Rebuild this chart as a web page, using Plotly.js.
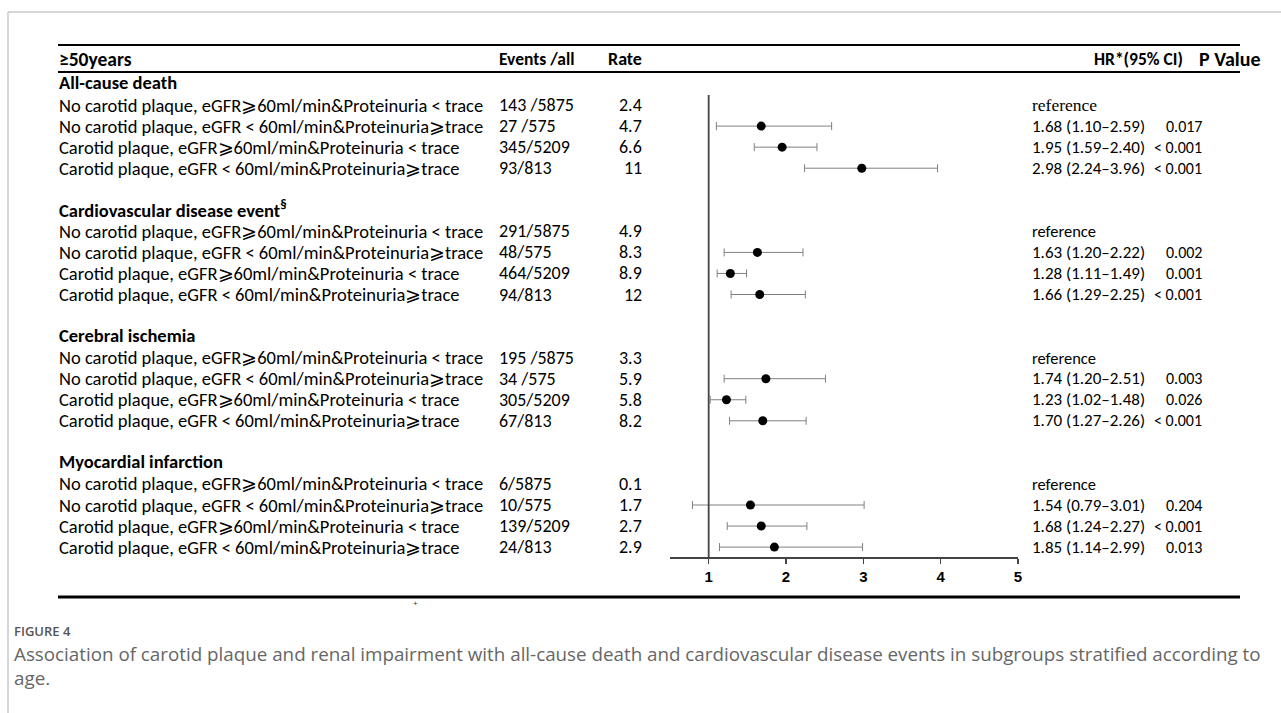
<!DOCTYPE html>
<html>
<head>
<meta charset="utf-8">
<script src="https://cdn.plot.ly/plotly-3.0.1.min.js"></script>
<style>html,body{margin:0;padding:0;background:#fff;}#chart{width:1281px;height:713px;}</style>
</head>
<body>
<div id="chart"></div>
<script>
// ---------- data ----------
const headerLabel = "≥50years";
const groups = ["All-cause death", "Cardiovascular disease event<sup>§</sup>", "Cerebral ischemia", "Myocardial infarction"];
const rowLabels = [
  "No carotid plaque, eGFR⩾60ml/min&amp;Proteinuria &lt; trace",
  "No carotid plaque, eGFR &lt; 60ml/min&amp;Proteinuria⩾trace",
  "Carotid plaque, eGFR⩾60ml/min&amp;Proteinuria &lt; trace",
  "Carotid plaque, eGFR &lt; 60ml/min&amp;Proteinuria⩾trace"
];
const events = [
  ["143 /5875", "27 /575", "345/5209", "93/813"],
  ["291/5875", "48/575", "464/5209", "94/813"],
  ["195 /5875", "34 /575", "305/5209", "67/813"],
  ["6/5875", "10/575", "139/5209", "24/813"]
];
const rates = [
  ["2.4", "4.7", "6.6", "11"],
  ["4.9", "8.3", "8.9", "12"],
  ["3.3", "5.9", "5.8", "8.2"],
  ["0.1", "1.7", "2.7", "2.9"]
];
// HR, lower, upper for rows 2-4 of each group (row 1 = reference)
const hr    = [[1.68, 1.95, 2.98], [1.63, 1.28, 1.66], [1.74, 1.23, 1.70], [1.54, 1.68, 1.85]];
const lower = [[1.10, 1.59, 2.24], [1.20, 1.11, 1.29], [1.20, 1.02, 1.27], [0.79, 1.24, 1.14]];
const upper = [[2.59, 2.40, 3.96], [2.22, 1.49, 2.25], [2.51, 1.48, 2.26], [3.01, 2.27, 2.99]];
const pvals = [["0.017", "&lt; 0.001", "&lt; 0.001"], ["0.002", "0.001", "&lt; 0.001"], ["0.003", "0.026", "&lt; 0.001"], ["0.204", "&lt; 0.001", "0.013"]];
const xTicks = [1, 2, 3, 4, 5];
const captionHead = "FIGURE 4";
const captionText = "Association of carotid plaque and renal impairment with all-cause death and cardiovascular disease events in subgroups stratified according to<br>age.";

// ---------- geometry helpers (pixels -> paper) ----------
const W = 1281, H = 713;
const px = v => v / W;
const py = v => 1 - v / H;
const y0 = 84, step = 21.05;
const slotY = k => y0 + k * step;
const plotLeft = 670, plotRight = 1018, plotTop = 95, plotBottom = 557;
const kTop = (plotTop - y0) / step, kBot = (plotBottom - y0) / step;

const txtFont = "Carlito, Calibri, Lato, 'Liberation Sans', sans-serif";
const F = (size, extra) => Object.assign({family: txtFont, size: size, color: "#000"}, extra || {});
const ann = [];
function addText(text, x, y, font, opts) {
  ann.push(Object.assign({
    text: text, xref: "paper", yref: "paper", x: px(x), y: py(y),
    xanchor: "left", yanchor: "middle", showarrow: false, font: font
  }, opts || {}));
}

// header
addText("<b>" + headerLabel + "</b>", 57, 59, F(19.5));
addText("<b>Events /all</b>", 497, 59, F(17.5));
addText("<b>Rate</b>", 644, 59, F(18), {xanchor: "right"});
addText("<b>HR*(95% CI)</b>", 1092, 59, F(17.5));
addText("<b>P Value</b>", 1197, 59, F(20));

// traces
const xs = [], ys = [], ep = [], em = [];
groups.forEach((g, gi) => {
  const base = gi * 6;
  addText("<b>" + g + "</b>", 57, slotY(base) - 1, F(18.5));
  rowLabels.forEach((lab, ri) => {
    const k = base + 1 + ri;
    addText(lab, 57, slotY(k), F(18.5));
    addText(events[gi][ri], 497, slotY(k), F(18));
    addText(rates[gi][ri], 644, slotY(k), F(18), {xanchor: "right"});
    if (ri === 0) {
      if (gi === 0) addText("reference", 1030, slotY(k), {family: "'Liberation Serif', 'Times New Roman', serif", size: 17.5, color: "#000"});
      else addText("reference", 1030, slotY(k), F(16.5));
    } else {
      const j = ri - 1;
      addText(hr[gi][j].toFixed(2) + " (" + lower[gi][j].toFixed(2) + "–" + upper[gi][j].toFixed(2) + ")", 1030, slotY(k), F(17));
      addText(pvals[gi][j], 1204, slotY(k), F(16), {xanchor: "right"});
      xs.push(hr[gi][j]); ys.push(k);
      ep.push(upper[gi][j] - hr[gi][j]); em.push(hr[gi][j] - lower[gi][j]);
    }
  });
});

// caption
addText(captionHead, 12, 631, {family: "'Open Sans', sans-serif", size: 13, color: "#555", weight: 600});
addText(captionText, 12, 666, {family: "'Open Sans', sans-serif", size: 18.8, color: "#666"}, {align: "left"});
addText("+", 415, 603, {family: "'Liberation Sans', sans-serif", size: 8, color: "#333"}, {xanchor: "center"});

const trace = {
  type: "scatter", mode: "markers", x: xs, y: ys,
  marker: {color: "#000", size: 9},
  error_x: {type: "data", symmetric: false, array: ep, arrayminus: em, color: "#808080", thickness: 1, width: 4},
  cliponaxis: false, hoverinfo: "x+y"
};

const shapes = [
  {type: "line", xref: "paper", yref: "paper", x0: px(8), x1: 1, y0: py(12), y1: py(12), line: {color: "#c8c8c8", width: 1.5}},
  {type: "line", xref: "paper", yref: "paper", x0: px(8), x1: px(8), y0: py(12), y1: 0, line: {color: "#c8c8c8", width: 1.5}},
  {type: "line", xref: "paper", yref: "paper", x0: px(58), x1: px(1240), y0: py(45), y1: py(45), line: {color: "#000", width: 2}},
  {type: "line", xref: "paper", yref: "paper", x0: px(58), x1: px(1240), y0: py(72), y1: py(72), line: {color: "#000", width: 2}},
  {type: "line", xref: "paper", yref: "paper", x0: px(58), x1: px(1240), y0: py(597), y1: py(597), line: {color: "#000", width: 3}},
  {type: "line", xref: "x", yref: "y", x0: 1, x1: 1, y0: kTop, y1: kBot, line: {color: "#444", width: 1.8}}
];

const layout = {
  width: W, height: H,
  margin: {l: 0, r: 0, t: 0, b: 0},
  paper_bgcolor: "#fff", plot_bgcolor: "rgba(0,0,0,0)",
  showlegend: false,
  xaxis: {
    domain: [px(plotLeft), px(plotRight)], range: [0.5, 5], autorange: false,
    tickvals: xTicks, ticktext: xTicks.map(String),
    showgrid: false, zeroline: false, showline: true, linecolor: "#444", linewidth: 1.5,
    ticks: "outside", ticklen: 5, tickwidth: 1.5, tickcolor: "#444",
    tickfont: {family: "'Liberation Sans', Arial, sans-serif", size: 15, color: "#000", weight: "bold"},
    fixedrange: true
  },
  yaxis: {
    domain: [1 - plotBottom / H, 1 - plotTop / H], range: [kBot, kTop], autorange: false,
    visible: false, fixedrange: true
  },
  shapes: shapes,
  annotations: ann
};

Plotly.newPlot("chart", [trace], layout, {displayModeBar: false, staticPlot: true});
</script>
</body>
</html>
